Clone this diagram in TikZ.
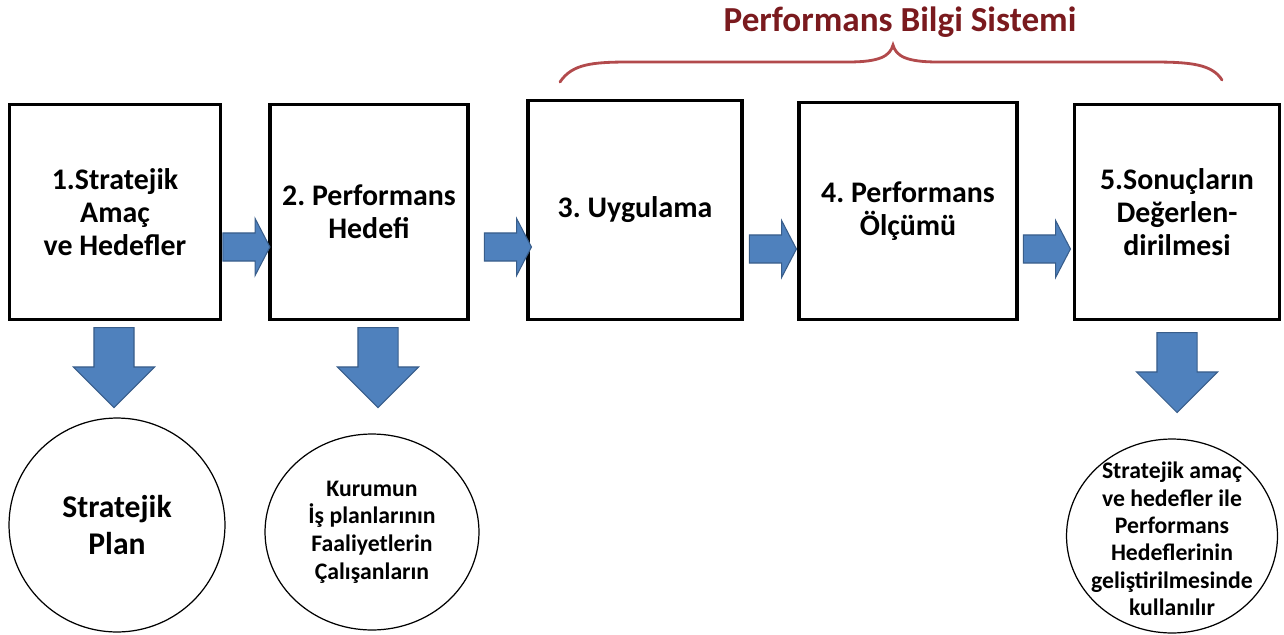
\documentclass[tikz,border=0pt]{standalone}
\usepackage{fontspec}
\setmainfont{Carlito}
\frenchspacing
\usepackage{tikz}
\tikzset{>=stealth}
\usetikzlibrary{calc, shapes.geometric, shapes.arrows}
\definecolor{arrowblue}{HTML}{4F81BD}
\definecolor{arrowedge}{HTML}{385D8A}
\definecolor{bracered}{HTML}{B24A4C}
\definecolor{titlered}{HTML}{7A1A1E}
\tikzset{
    stepbox/.style={draw, line width=2.2pt, align=center, font=\bfseries\fontsize{17}{18.8}\selectfont},
    rightarrow/.style={single arrow, anchor=tail, draw=arrowedge, fill=arrowblue, line width=0.6pt,
        inner xsep=0pt, inner ysep=0.27cm, single arrow head extend=0.29cm,
        single arrow tip angle=125, minimum height=0.94cm},
    downarrow/.style={single arrow, rotate=-90, anchor=tail, draw=arrowedge, fill=arrowblue, line width=0.6pt,
        inner xsep=0pt, inner ysep=0.39cm, single arrow head extend=0.41cm,
        minimum height=1.6cm},
    result/.style={ellipse, draw, line width=0.7pt},
    resulttext/.style={align=center, inner sep=0pt}
}

\begin{document}
\begin{tikzpicture}[x=0.02cm, y=-0.02cm]
    \useasboundingbox (0,0) rectangle (1284,635);
    \node[stepbox, minimum width=4.22cm, minimum height=4.3cm] (b1) at (115,212) {1.Stratejik\\Amaç\\ve Hedefler};
    \node[stepbox, minimum width=3.96cm, minimum height=4.3cm] (b2) at (369,212) {2. Performans\\Hedefi};
    \node[stepbox, minimum width=4.28cm, minimum height=4.38cm] (b3) at (635,210) {3. Uygulama};
    \node[stepbox, minimum width=4.36cm, minimum height=4.34cm] (b4) at (908,211) {4. Performans\\Ölçümü};
    \node[stepbox, minimum width=4.1cm, minimum height=4.3cm] (b5) at (1177,212) {5.Sonuçların\\Değerlen-\\dirilmesi};
    \node[rightarrow] (a1) at ($(b1.east)+(0,35)$) {};
    \node[rightarrow] (a2) at ($(b2.east)+(14,35)$) {};
    \node[rightarrow] (a3) at ($(b3.east)+(5,39)$) {};
    \node[rightarrow] (a4) at ($(b4.east)+(4,38)$) {};
    \node[downarrow] (d1) at (114,327) {};
    \node[downarrow] (d2) at (378,327) {};
    \node[downarrow] (d3) at (1177,332) {};
    \node[result, minimum width=4.32cm, minimum height=4.28cm] (c1) at (117,525) {};
    \node[result, minimum width=4.28cm, minimum height=3.92cm] (c2) at (372,532) {};
    \node[result, minimum width=4.22cm, minimum height=3.88cm] (c3) at (1172,536) {};
    \node[resulttext, font=\bfseries\fontsize{18}{21.5}\selectfont] (t1) at (c1.center) {Stratejik\\Plan};
    \node[resulttext, font=\bfseries\fontsize{13.5}{15.7}\selectfont] (t2) at (c2.center) {Kurumun\\İş planlarının\\Faaliyetlerin\\Çalışanların};
    \node[resulttext, font=\bfseries\fontsize{13.5}{15.6}\selectfont] (t3) at ($(c3.center)+(0,3)$) {Stratejik amaç\\ve hedefler ile\\Performans\\Hedeflerinin\\geliştirilmesinde\\kullanılır};
    \draw[bracered, line width=1.6pt, line cap=round] (560,82) .. controls (572,64) and (592,62) .. (630,62) -- (848,62) .. controls (880,62) and (890,56) .. (893,45) .. controls (896,56) and (906,62) .. (938,62) -- (1152,62) .. controls (1190,62) and (1212,64) .. (1222,80);
    \node[titlered, font=\bfseries\fontsize{20}{24}\selectfont] (title) at (900,22) {Performans Bilgi Sistemi};
\end{tikzpicture}
\end{document}
